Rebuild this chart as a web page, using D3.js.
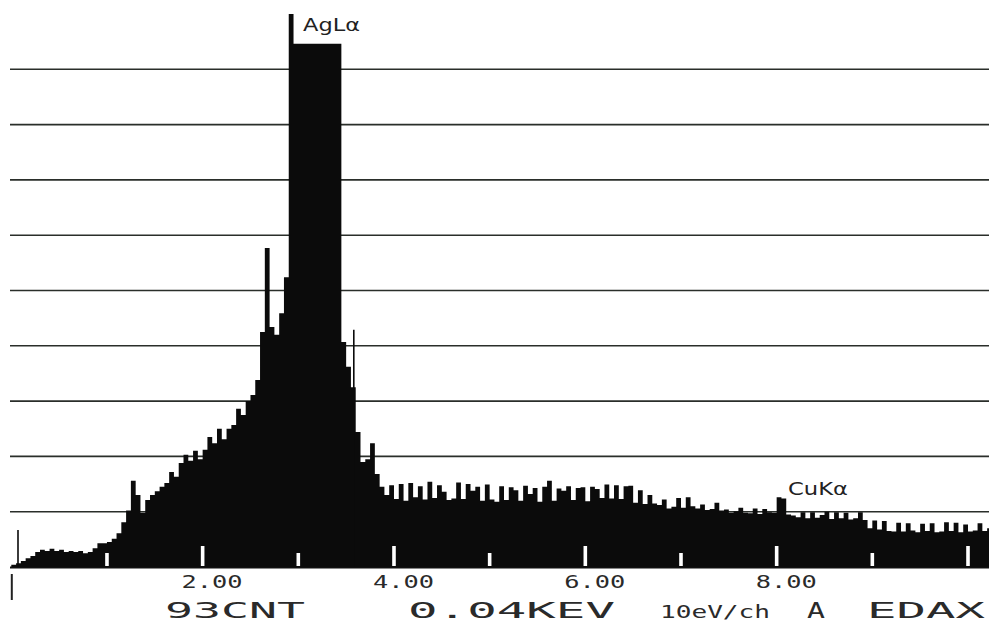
<!DOCTYPE html>
<html>
<head>
<meta charset="utf-8">
<script src="https://cdn.jsdelivr.net/npm/d3@7"></script>
<style>
  html, body { margin: 0; padding: 0; background: #ffffff; }
  svg { display: block; }
</style>
</head>
<body>
<svg id="chart" width="989" height="626"></svg>
<script>
// EDAX energy-dispersive X-ray spectrum, 0.05 keV bins, counts as % of full scale
const binWidth = 0.05;
const counts = [
  0.4, 0.7, 1.1, 1.6, 2.0, 2.7, 3.1, 2.9, 3.3, 2.9,
  3.1, 2.7, 2.9, 2.7, 2.9, 2.5, 2.7, 3.4, 4.3, 4.3,
  4.5, 5.1, 6.1, 8.1, 10.2, 15.6, 13.0, 9.8, 12.1, 13.0,
  13.7, 14.5, 15.2, 17.2, 16.3, 18.8, 20.3, 19.2, 21.0, 19.5,
  21.2, 23.5, 22.4, 25.0, 23.1, 25.0, 25.7, 28.6, 27.5, 30.0,
  31.1, 33.8, 42.5, 57.7, 43.4, 42.0, 45.9, 52.4, 100, 94.6,
  94.6, 94.6, 94.6, 94.6, 94.6, 94.6, 94.6, 94.6, 94.6, 40.7,
  36.2, 32.5, 24.4, 19.0, 19.5, 22.4, 16.8, 14.5, 13.0, 14.8,
  12.3, 15.0, 12.0, 15.2, 12.6, 14.6, 12.2, 15.4, 12.5, 14.8,
  13.6, 12.1, 12.4, 15.3, 12.3, 15.0, 13.8, 14.5, 12.0, 14.9,
  12.2, 11.8, 14.6, 12.1, 14.4, 13.9, 12.0, 14.7, 13.2, 14.3,
  11.8, 14.5, 15.6, 12.0, 14.2, 13.8, 14.6, 12.1, 14.3, 14.4,
  11.9, 14.5, 14.1, 12.5, 14.9, 12.4, 14.8, 12.3, 14.6, 14.7,
  11.6, 13.9, 11.4, 13.0, 11.5, 11.2, 12.2, 10.6, 10.9, 12.5,
  10.7, 12.6, 11.0, 10.6, 11.3, 10.3, 10.5, 11.6, 10.2, 10.4,
  9.8, 10.1, 10.7, 9.8, 9.7, 10.6, 9.6, 10.5, 9.9, 9.8,
  12.6, 12.4, 9.5, 9.3, 9.0, 9.9, 8.8, 9.9, 8.9, 9.4,
  10.0, 8.7, 9.9, 8.8, 9.8, 8.6, 8.8, 9.9, 8.5, 7.0,
  8.4, 6.8, 8.3, 6.5, 6.4, 8.0, 6.4, 7.9, 6.6, 6.3,
  7.8, 6.5, 7.9, 6.3, 6.4, 8.1, 6.5, 8.0, 6.3, 7.7,
  6.4, 6.6, 7.9, 6.5, 7.0
];

// single-channel spikes (keV, % of full scale)
const spikeEnergies = [0.07, 3.58];
const spikeCounts = [6.7, 42.9];

// peak identifications
const peakNames = ["AgL\u03b1", "CuK\u03b1"];
const peakEnergies = [3.05, 8.04];
const peakLabelLevels = [98, 12.7];

// energy axis
const tickEnergies = [1, 2, 3, 4, 5, 6, 7, 8, 9, 10];
const labelEnergies = [2, 4, 6, 8];
const labelTexts = ["2.00", "4.00", "6.00", "8.00"];
const gridLevels = [10, 20, 30, 40, 50, 60, 70, 80, 90];

// status line
const statusTexts = ["93CNT", "0.04KEV", "10eV/ch", "A", "EDAX"];

const svg = d3.select("#chart");
const x = d3.scaleLinear().domain([0, 10]).range([11.3, 968]);
const y = d3.scaleLinear().domain([0, 100]).range([567, 14]);

// horizontal full-scale divisions
svg.append("g").selectAll("line").data(gridLevels).join("line")
  .attr("x1", 10).attr("x2", 989)
  .attr("y1", d => y(d)).attr("y2", d => y(d))
  .attr("stroke", "#2a2e2a").attr("stroke-width", 1.6);

// baseline
svg.append("line")
  .attr("x1", 10).attr("x2", 989).attr("y1", y(0) + 0.5).attr("y2", y(0) + 0.5)
  .attr("stroke", "#111").attr("stroke-width", 2);

// spectrum as filled step histogram
const pts = counts.map((c, i) => [i * binWidth, c]);
pts.push([counts.length * binWidth, counts[counts.length - 1]]);
const area = d3.area()
  .x(d => x(d[0]))
  .y0(y(0))
  .y1(d => y(d[1]))
  .curve(d3.curveStepAfter);
svg.append("path").datum(pts)
  .attr("d", area)
  .attr("fill", "#0b0b0b");

// narrow spikes
svg.append("g").selectAll("line").data(spikeEnergies).join("line")
  .attr("x1", d => x(d)).attr("x2", d => x(d))
  .attr("y1", y(0)).attr("y2", (d, i) => y(spikeCounts[i]))
  .attr("stroke", "#0b0b0b").attr("stroke-width", 1.6);

// keV tick marks, drawn in white inside the spectrum
svg.append("g").selectAll("rect").data(tickEnergies).join("rect")
  .attr("x", d => x(d) - 1.8)
  .attr("width", 3.6)
  .attr("y", d => y(0) - 1 - (d % 2 === 0 ? 20 : 13))
  .attr("height", d => (d % 2 === 0 ? 20 : 13))
  .attr("fill", "#ffffff");

// zero-energy marker
svg.append("line")
  .attr("x1", x(0) + 0.5).attr("x2", x(0) + 0.5)
  .attr("y1", 574).attr("y2", 600)
  .attr("stroke", "#222").attr("stroke-width", 2);

const mono = "'DejaVu Sans Mono', 'Liberation Mono', monospace";

// energy labels
svg.append("g").selectAll("text").data(labelEnergies).join("text")
  .attr("x", d => x(d) - 21)
  .attr("y", 588)
  .attr("textLength", 61)
  .attr("lengthAdjust", "spacingAndGlyphs")
  .attr("font-family", mono)
  .attr("font-size", 18)
  .attr("fill", "#2a2a2a")
  .text((d, i) => labelTexts[i]);

// peak labels
const peakX = [303, 788];
svg.append("g").selectAll("text").data(peakNames).join("text")
  .attr("x", (d, i) => peakX[i])
  .attr("y", (d, i) => i === 0 ? 31 : 495)
  .attr("textLength", (d, i) => i === 0 ? 57 : 60)
  .attr("lengthAdjust", "spacingAndGlyphs")
  .attr("font-family", "'DejaVu Sans', sans-serif")
  .attr("font-size", 17)
  .attr("fill", "#222")
  .text(d => d);

// status line
const statusX = [165, 408, 660, 807, 867];
const statusLen = [140, 207, 110, 18, 118];
const statusSize = [22, 22, 17, 22, 22];
svg.append("g").selectAll("text").data(statusTexts).join("text")
  .attr("x", (d, i) => statusX[i])
  .attr("y", 618)
  .attr("textLength", (d, i) => statusLen[i])
  .attr("lengthAdjust", "spacingAndGlyphs")
  .attr("font-family", mono)
  .attr("font-size", (d, i) => statusSize[i])
  .attr("fill", "#2a2a2a")
  .text(d => d);
</script>
</body>
</html>
